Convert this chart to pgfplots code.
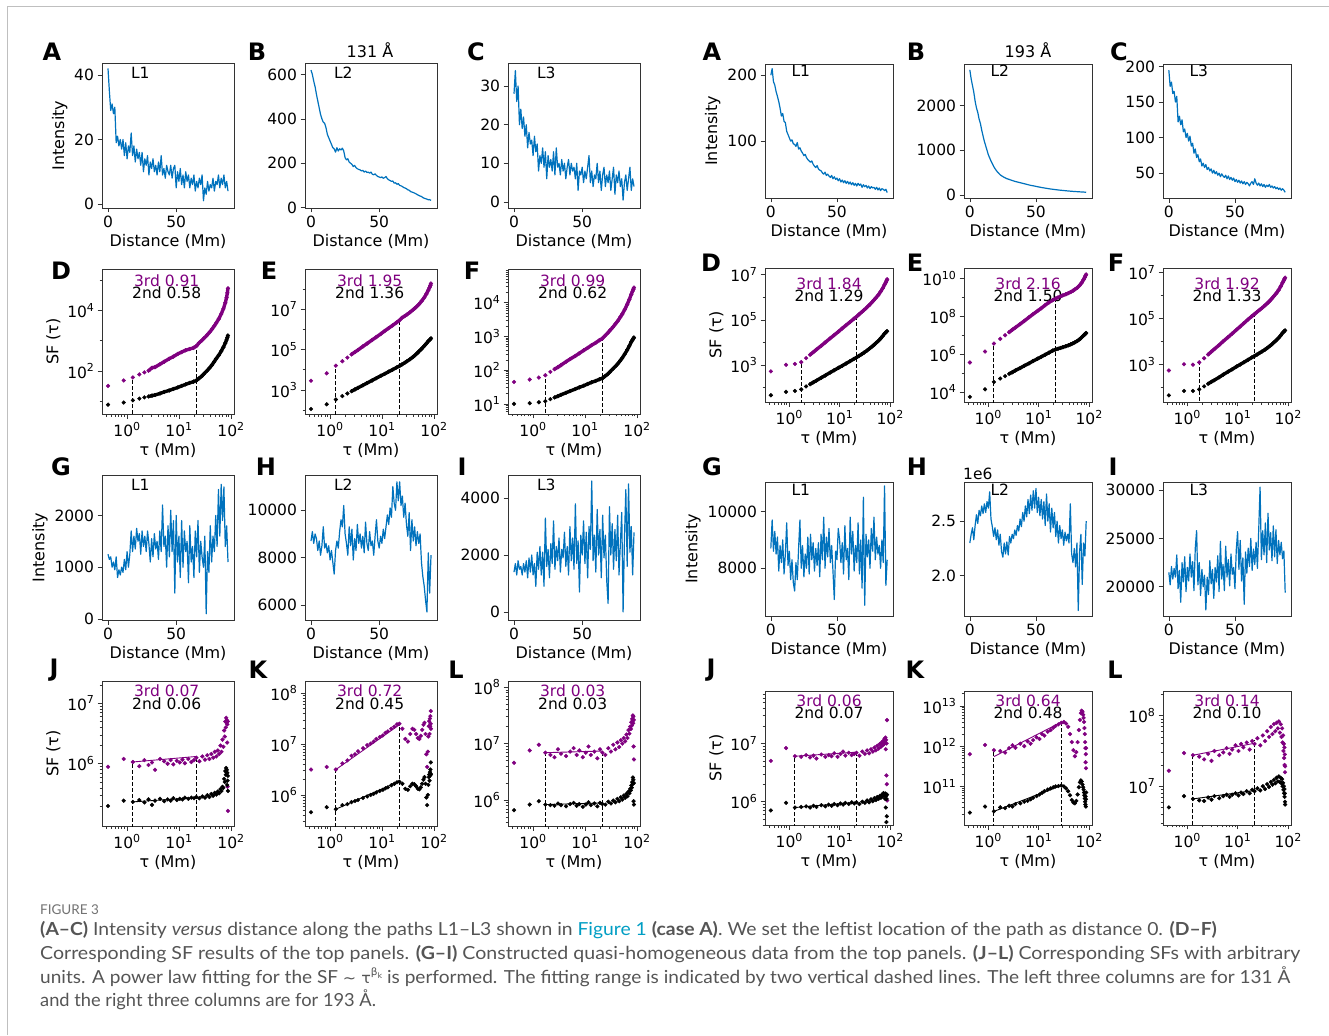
\documentclass[border=0pt]{standalone}
\usepackage{fontspec}
\setmainfont{DejaVu Sans}
\newfontfamily\capfont{Lato}
\newfontfamily\dejavu{DejaVu Sans}
\usepackage{graphicx}
\usepackage{pgfplots}
\usepackage{pgfplotstable}
\pgfplotsset{compat=1.18}
\definecolor{lineblue}{RGB}{0,114,189}
\definecolor{mpurple}{RGB}{128,0,128}
\definecolor{capgray}{RGB}{85,85,85}
\definecolor{capteal}{RGB}{0,158,196}
\newcommand{\tp}[1]{10\raisebox{0.42em}{\fontsize{11}{11}\selectfont #1}}
\tikzset{txt/.style={font=\fontsize{15.5}{16}\selectfont}}
\pgfplotsset{
  myax/.style={scale only axis, scaled ticks=false, axis line style={draw=black!80,line width=0.6pt}, tick style={black!80,line width=0.6pt}, tick align=outside, tick pos=left, major tick length=4.5pt, minor tick length=2.5pt, ticklabel style={font=\fontsize{15.5}{16}\selectfont}, label style={font=\fontsize{16}{18}\selectfont}, /pgf/number format/assume math mode=true, clip=true},
  Lw/.style={myax, width=132pt, height=145pt, anchor=north west},
  Rw/.style={myax, width=128pt, height=134pt, anchor=north west},
  dist/.style={xmin=-4.4, xmax=92.4, xtick={0,50}, xticklabels={0,50}, xlabel={Distance (Mm)}},
  sfax/.style={xmin=0.333, xmax=115, xtick={1,10,100}, xticklabels={\tp{0},\tp{1},\tp{2}}, minor xtick={0.4,0.5,0.6,0.7,0.8,0.9,2,3,4,5,6,7,8,9,20,30,40,50,60,70,80,90}, xlabel={τ (Mm)}},
  bl/.style={color=lineblue, line width=1.2pt, line join=round},
  pm/.style={only marks, mark=*, mark size=1.9pt, color=mpurple},
  km/.style={only marks, mark=*, mark size=1.9pt, color=black},
  pl/.style={no marks, color=mpurple, line width=3.4pt},
  kl/.style={no marks, color=black, line width=3.4pt},
  pf/.style={no marks, color=mpurple, line width=0.9pt},
  kf/.style={no marks, color=black, line width=0.9pt},
  dsh/.style={no marks, black, line width=0.9pt, dash pattern=on 4pt off 2pt},
}
\pgfplotstableread{
t LDp LDb LEp LEb LFp LFb RDp RDb REp REb RFp RFb
0.435 31.6 7.59 2.82e3 1.12e2 44.7 10.0 513 44.7 3.63e5 5.50e3 562 46.8
0.87 47.9 8.91 6.61e3 1.91e2 52.5 10.5 1000 63.1 1.38e6 1.38e4 1047 72.4
1.305 60.3 10.5 1.58e4 3.31e2 60.3 11.2 1096 69.2 3.63e6 3.39e4 1000 72.4
1.74 75.9 12.0 2.63e4 4.90e2 70.8 12.0 1318 81.3 6.46e6 5.13e4 1259 85.1
2.175 89.1 13.2 3.98e4 6.61e2 89.1 13.8 1995 110 1.00e7 6.92e4 1905 115
2.61 100 14.1 5.75e4 8.51e2 107 15.5 2818 138 1.45e7 9.12e4 2754 148
3.045 126 15.1 7.59e4 1.05e3 123 17.0 3715 170 2.00e7 1.12e5 3715 182
3.48 132 15.8 9.55e4 1.26e3 141 18.6 4786 200 2.57e7 1.38e5 4786 214
4.35 166 17.8 1.45e5 1.70e3 178 21.4 7079 269 3.98e7 1.86e5 7244 288
5.22 200 20.0 2.00e5 2.19e3 214 24.0 1.00e4 339 5.75e7 2.45e5 1.05e4 372
6.525 251 22.4 3.02e5 2.95e3 263 27.5 1.51e4 457 9.12e7 3.31e5 1.58e4 501
7.83 295 25.1 4.17e5 3.80e3 316 30.9 2.09e4 575 1.32e8 4.37e5 2.24e4 631
9.57 363 28.2 6.03e5 5.01e3 389 34.7 3.02e4 741 1.95e8 5.75e5 3.31e4 832
11.31 417 31.6 8.32e5 6.17e3 457 38.9 4.17e4 912 2.69e8 7.24e5 4.57e4 1023
13.485 479 35.5 1.15e6 7.94e3 550 43.7 5.75e4 1148 3.89e8 9.33e5 6.46e4 1288
16.095 525 39.8 1.58e6 1.00e4 646 47.9 7.94e4 1445 5.50e8 1.20e6 9.12e4 1622
19.14 575 43.7 2.19e6 1.29e4 776 53.7 1.10e5 1820 7.24e8 1.55e6 1.26e5 2042
21.75 661 47.9 2.82e6 1.51e4 871 57.5 1.38e5 2138 8.71e8 1.78e6 1.58e5 2399
24.36 832 56.2 3.80e6 1.82e4 1047 66.1 1.74e5 2512 1.00e9 1.95e6 1.95e5 2754
27.405 1000 66.1 4.57e6 2.19e4 1259 75.9 2.19e5 2951 1.15e9 2.14e6 2.40e5 3236
30.45 1202 79.4 5.50e6 2.63e4 1514 89.1 2.69e5 3467 1.29e9 2.34e6 2.88e5 3715
34.8 1514 100 7.08e6 3.31e4 1905 110 3.55e5 4266 1.48e9 2.63e6 3.72e5 4467
39.15 1905 126 9.12e6 4.17e4 2399 132 4.57e5 5248 1.70e9 2.95e6 4.68e5 5370
43.5 2399 158 1.15e7 5.25e4 2951 158 5.89e5 6310 1.95e9 3.31e6 5.89e5 6457
47.85 3020 200 1.45e7 6.61e4 3715 191 7.41e5 7586 2.24e9 3.72e6 7.41e5 7586
52.2 3802 251 1.82e7 8.32e4 4571 229 9.33e5 9120 2.63e9 4.17e6 9.33e5 9120
58.725 5248 331 2.63e7 1.12e5 6310 302 1.26e6 1.15e4 3.31e9 5.01e6 1.26e6 1.15e4
65.25 7586 447 3.80e7 1.51e5 8913 398 1.78e6 1.48e4 4.37e9 6.17e6 1.74e6 1.45e4
71.775 1.12e4 603 5.75e7 2.00e5 1.26e4 525 2.51e6 1.91e4 6.03e9 7.76e6 2.51e6 1.86e4
78.3 1.78e4 832 8.91e7 2.63e5 1.78e4 692 3.63e6 2.45e4 8.91e9 9.77e6 3.63e6 2.40e4
82.65 2.63e4 1047 1.20e8 3.02e5 2.19e4 794 4.57e6 2.75e4 1.17e10 1.12e7 4.57e6 2.69e4
85.695 3.80e4 1259 1.51e8 3.31e5 2.51e4 871 5.50e6 3.02e4 1.45e10 1.23e7 5.37e6 2.95e4
87.87 5.37e4 1479 1.91e8 3.63e5 2.82e4 933 6.31e6 3.16e4 1.66e10 1.32e7 6.03e6 3.09e4
}\tA
\pgfplotstableread{
t LJp LJb LKp LKb LLp LLb RJp RJb RKp RKb RLp RLb
0.435 8.91e5 2.00e5 3.16e6 4.57e5 4.57e6 6.61e5 5.01e6 7.08e5 6.31e11 2.24e10 1.66e7 5.01e6
0.87 1.20e6 2.45e5 3.55e6 5.75e5 7.59e6 8.32e5 8.32e6 9.55e5 1.07e12 3.16e10 2.95e7 7.24e6
1.305 1.07e6 2.34e5 3.16e6 5.25e5 9.55e6 9.55e5 6.03e6 7.94e5 7.94e11 2.40e10 2.75e7 6.61e6
1.74 9.12e5 2.51e5 4.17e6 6.31e5 6.92e6 8.32e5 5.89e6 8.13e5 7.59e11 3.02e10 2.63e7 6.31e6
2.175 1.15e6 2.29e5 4.79e6 6.61e5 6.31e6 8.13e5 6.31e6 8.32e5 6.92e11 2.88e10 2.40e7 6.17e6
2.61 9.55e5 2.57e5 5.89e6 7.24e5 5.75e6 7.94e5 5.75e6 7.94e5 8.91e11 3.31e10 2.88e7 6.92e6
3.045 1.05e6 2.09e5 6.31e6 7.59e5 7.94e6 8.71e5 6.17e6 8.51e5 1.05e12 3.16e10 2.29e7 6.46e6
3.48 7.94e5 2.45e5 7.24e6 7.94e5 6.61e6 8.13e5 5.50e6 8.13e5 9.12e11 3.63e10 3.16e7 7.24e6
4.35 1.20e6 2.63e5 8.32e6 8.71e5 6.03e6 7.76e5 6.46e6 8.71e5 1.15e12 3.80e10 2.75e7 6.76e6
5.22 1.10e6 2.40e5 9.55e6 9.33e5 7.24e6 8.51e5 5.89e6 8.32e5 1.00e12 4.17e10 3.02e7 7.24e6
6.09 1.00e6 2.57e5 1.02e7 1.00e6 8.32e6 8.91e5 6.31e6 8.91e5 1.32e12 4.37e10 3.47e7 7.59e6
6.96 1.15e6 2.45e5 1.12e7 1.05e6 6.31e6 7.94e5 6.03e6 8.51e5 1.15e12 4.79e10 2.88e7 7.08e6
7.83 9.77e5 2.69e5 1.26e7 1.12e6 7.59e6 8.51e5 6.76e6 9.12e5 1.41e12 5.25e10 3.31e7 7.59e6
9.135 1.12e6 2.51e5 1.38e7 1.20e6 5.75e6 7.59e5 5.89e6 8.71e5 1.66e12 5.75e10 3.80e7 7.94e6
10.44 1.05e6 2.63e5 1.48e7 1.26e6 6.92e6 8.32e5 6.61e6 9.33e5 1.51e12 6.31e10 3.16e7 7.41e6
11.745 1.17e6 2.57e5 1.66e7 1.35e6 8.91e6 9.12e5 7.24e6 8.91e5 2.00e12 6.92e10 3.98e7 8.13e6
13.05 1.02e6 2.75e5 1.78e7 1.41e6 6.31e6 8.13e5 6.17e6 9.55e5 1.82e12 7.59e10 3.55e7 7.76e6
15.225 1.20e6 2.63e5 2.00e7 1.55e6 7.24e6 8.71e5 6.92e6 9.12e5 2.29e12 8.32e10 4.17e7 8.51e6
17.4 1.07e6 2.75e5 2.19e7 1.66e6 5.50e6 7.76e5 6.31e6 9.77e5 2.51e12 8.91e10 3.31e7 7.94e6
19.575 1.15e6 2.69e5 2.45e7 1.78e6 7.94e6 8.91e5 6.61e6 9.33e5 2.88e12 9.55e10 4.37e7 8.91e6
21.75 1.26e6 2.82e5 2.51e7 1.82e6 6.92e6 8.51e5 6.92e6 9.77e5 3.16e12 1.00e11 3.98e7 8.51e6
24.8 1.10e6 2.69e5 2.00e7 1.66e6 6.31e6 8.32e5 6.17e6 9.12e5 3.47e12 1.02e11 4.79e7 9.33e6
28.3 1.32e6 2.88e5 1.26e7 1.32e6 8.32e6 9.33e5 7.24e6 1.00e6 3.80e12 1.05e11 3.80e7 8.71e6
31.8 1.17e6 2.75e5 1.12e7 1.26e6 7.24e6 8.71e5 6.61e6 9.55e5 3.98e12 1.00e11 5.25e7 1.00e7
35.2 1.38e6 3.02e5 1.58e7 1.48e6 9.55e6 9.77e5 7.59e6 1.05e6 3.63e12 8.91e10 4.37e7 9.12e6
38.7 1.20e6 2.82e5 2.00e7 1.66e6 7.94e6 9.12e5 6.76e6 9.77e5 3.02e12 7.59e10 6.03e7 1.07e7
42.2 1.45e6 3.16e5 1.91e7 1.62e6 1.05e7 1.05e6 7.94e6 1.10e6 2.00e12 6.03e10 5.01e7 9.77e6
45.7 1.26e6 2.95e5 1.58e7 1.48e6 8.71e6 9.55e5 7.24e6 1.02e6 1.26e12 4.57e10 6.92e7 1.15e7
49.2 1.58e6 3.31e5 1.32e7 1.32e6 1.15e7 1.12e6 8.51e6 1.15e6 7.94e11 3.98e10 5.50e7 1.05e7
52.6 1.32e6 3.09e5 1.26e7 1.29e6 1.00e7 1.02e6 7.59e6 1.07e6 5.62e11 3.80e10 7.59e7 1.23e7
56.1 1.66e6 3.47e5 1.45e7 1.41e6 1.26e7 1.20e6 9.12e6 1.20e6 7.08e11 4.37e10 6.03e7 1.10e7
59.6 1.45e6 3.24e5 1.91e7 1.66e6 1.10e7 1.10e6 8.13e6 1.12e6 1.26e12 6.31e10 7.94e7 1.32e7
63.1 2.00e6 3.80e5 2.40e7 2.00e6 1.45e7 1.29e6 9.77e6 1.26e6 2.51e12 9.55e10 6.61e7 1.17e7
66.1 1.58e6 3.55e5 2.63e7 2.24e6 1.26e7 1.17e6 8.71e6 1.17e6 4.47e12 1.26e11 8.32e7 1.38e7
69.1 2.51e6 4.17e5 1.58e7 1.66e6 1.74e7 1.41e6 1.05e7 1.32e6 6.61e12 1.41e11 5.75e7 1.15e7
71.8 1.91e6 3.98e5 6.31e6 8.91e5 1.51e7 1.32e6 9.33e6 1.23e6 7.59e12 1.32e11 7.59e7 1.32e7
74.4 3.55e6 5.62e5 3.55e6 6.31e5 2.00e7 1.58e6 1.12e7 1.41e6 7.08e12 1.12e11 5.01e7 1.10e7
76.6 2.82e6 5.01e5 7.08e6 1.00e6 1.82e7 1.48e6 9.77e6 1.29e6 6.03e12 9.55e10 6.61e7 1.26e7
78.3 5.01e6 7.59e5 1.41e7 1.58e6 2.40e7 1.82e6 1.20e7 1.35e6 5.01e12 8.32e10 4.17e7 1.00e7
80.0 3.98e6 6.61e5 2.24e7 2.24e6 2.09e7 1.66e6 1.05e7 1.12e6 3.98e12 7.08e10 5.25e7 1.12e7
81.3 5.75e6 8.51e5 2.82e7 2.51e6 2.75e7 2.09e6 1.26e7 1.38e6 2.82e12 6.03e10 3.16e7 8.91e6
82.7 4.79e6 7.24e5 1.58e7 1.91e6 2.51e7 1.91e6 7.94e6 7.94e5 2.00e12 5.01e10 3.98e7 1.00e7
83.9 5.25e6 7.94e5 3.16e7 2.82e6 3.16e7 2.51e6 1.15e7 1.26e6 1.26e12 4.17e10 2.51e7 7.94e6
85.0 2.24e6 4.47e5 2.24e7 2.40e6 2.29e7 2.00e6 2.82e6 4.47e5 8.91e11 3.55e10 3.55e7 9.12e6
85.7 4.47e6 7.08e5 3.55e7 3.16e6 3.02e7 2.29e6 1.00e7 1.12e6 3.98e11 5.62e10 2.00e7 7.08e6
86.6 4.17e5 5.25e5 2.51e7 2.63e6 8.91e6 9.55e5 2.00e6 5.62e5 6.31e11 3.16e10 2.82e7 7.94e6
87.4 5.01e6 6.31e5 4.47e7 4.37e6 2.63e7 2.00e6 2.51e7 1.32e6 2.82e11 4.79e10 1.58e7 6.03e6
87.9 1.66e5 3.55e5 2.00e7 2.51e6 5.25e6 8.32e5 1.05e6 3.55e5 8.91e11 7.08e10 1.91e7 5.50e6
}\tB
\begin{document}
\begin{tikzpicture}
\useasboundingbox (0,0) rectangle (1329pt,-1035pt);
\fill[white] (0,0) rectangle (1329pt,-1035pt);
\draw[black!25, line width=1pt] (7pt,-1035pt) -- (7pt,-7pt) -- (1329pt,-7pt);
% ---------- panel letters
\begin{scope}[every node/.style={font=\fontsize{24}{24}\selectfont\bfseries}]
\node at (52pt,-52pt) {A}; \node at (257pt,-52pt) {B}; \node at (476pt,-52pt) {C};
\node at (61pt,-271pt) {D}; \node at (269pt,-271pt) {E}; \node at (472pt,-271pt) {F};
\node at (61pt,-467pt) {G}; \node at (266pt,-467pt) {H}; \node at (462pt,-467pt) {I};
\node at (54pt,-670pt) {J}; \node at (258pt,-670pt) {K}; \node at (456pt,-670pt) {L};
\node at (712pt,-52pt) {A}; \node at (916pt,-52pt) {B}; \node at (1119pt,-52pt) {C};
\node at (711pt,-263pt) {D}; \node at (915pt,-263pt) {E}; \node at (1116pt,-263pt) {F};
\node at (712pt,-467pt) {G}; \node at (917pt,-467pt) {H}; \node at (1113pt,-467pt) {I};
\node at (711pt,-670pt) {J}; \node at (915pt,-670pt) {K}; \node at (1115pt,-670pt) {L};
\end{scope}
\node[font=\fontsize{16}{18}\selectfont] at (370pt,-50pt) {131 Å};
\node[font=\fontsize{16}{18}\selectfont] at (1028pt,-50pt) {193 Å};
\node[anchor=south west, inner sep=1pt, font=\fontsize{15.5}{16}\selectfont] at (962pt,-481pt) {1e6};
% ================= LEFT ROW 1
\begin{axis}[Lw, dist, at={(102pt,-63pt)}, ymin=-1.24, ymax=43.7, ytick={0,20,40}, yticklabels={0,20,40}, ylabel={Intensity}]
\addplot[bl] coordinates {(0,42)(1,35)(2,29)(3,31)(4,28)(5,30)(6,19)(7,21)(8,18)(9,20)(10,17)(11,20)(12,15)(13,19)(14,14)(15,18)(16,16)(17,22)(18,15)(19,18)(20,13)(21,17)(22,14)(23,16)(24,12)(25,16)(26,10)(27,14)(28,12)(29,15)(30,9)(31,13)(32,11)(33,14)(34,10)(35,12)(36,9)(37,13)(38,10)(39,15)(40,9)(41,11)(42,8)(43,12)(44,10)(45,9)(46,12)(47,8)(48,11)(49,12)(50,5)(51,10)(52,7)(53,11)(54,6)(55,9)(56,5)(57,10)(58,7)(59,9)(60,5)(61,8)(62,6)(63,9)(64,4)(65,7)(66,5)(67,8)(68,6)(69,9)(70,1)(71,5)(72,3)(73,7)(74,4)(75,6)(76,5)(77,8)(78,4)(79,7)(80,6)(81,9)(82,5)(83,8)(84,6)(85,9)(86,5)(87,7)(88,4)};
\node[txt] at (rel axis cs:0.29,0.93) {L1};
\end{axis}
\begin{axis}[Lw, dist, at={(305pt,-63pt)}, ymin=-2, ymax=652, ytick={0,200,400,600}, yticklabels={0,200,400,600}]
\addplot[bl] coordinates {(0,620)(1,600)(2,570)(3,545)(4,510)(5,480)(6,450)(7,420)(8,400)(9,385)(10,380)(11,360)(12,330)(13,315)(14,300)(15,285)(16,270)(17,265)(18,250)(19,270)(20,255)(21,265)(22,260)(23,268)(24,255)(25,225)(26,215)(27,220)(28,205)(29,200)(30,195)(31,185)(32,190)(33,180)(34,175)(35,172)(36,170)(37,165)(38,168)(39,160)(40,165)(41,158)(42,160)(43,155)(44,160)(45,150)(46,148)(47,152)(48,145)(49,140)(50,138)(51,135)(52,138)(53,132)(54,135)(55,140)(56,130)(57,125)(58,122)(59,118)(60,120)(61,110)(62,112)(63,105)(64,108)(65,100)(66,98)(67,95)(68,90)(69,88)(70,85)(71,80)(72,78)(73,72)(74,70)(75,68)(76,65)(77,62)(78,58)(79,55)(80,52)(81,50)(82,45)(83,42)(84,40)(85,38)(86,35)(87,36)(88,32)};
\node[txt] at (rel axis cs:0.29,0.93) {L2};
\end{axis}
\begin{axis}[Lw, dist, at={(508pt,-63pt)}, ymin=-1.55, ymax=35.95, ytick={0,10,20,30}, yticklabels={0,10,20,30}]
\addplot[bl] coordinates {(0,28)(1,34)(2,26)(3,30)(4,20)(5,24)(6,19)(7,22)(8,17)(9,20)(10,14)(11,18)(12,15)(13,16)(14,12)(15,17)(16,13)(17,15)(18,8)(19,12)(20,10)(21,14)(22,9)(23,13)(24,6)(25,12)(26,9)(27,11)(28,8)(29,13)(30,7)(31,14)(32,9)(33,10)(34,7)(35,11)(36,8)(37,10)(38,6)(39,9)(40,11)(41,7)(42,10)(43,8)(44,9)(45,6)(46,10)(47,3)(48,8)(49,7)(50,9)(51,5)(52,8)(53,6)(54,9)(55,12)(56,5)(57,8)(58,4)(59,7)(60,6)(61,10)(62,5)(63,8)(64,3)(65,7)(66,9)(67,4)(68,7)(69,5)(70,8)(71,3)(72,6)(73,9)(74,2)(75,7)(76,5)(77,8)(78,4)(79,6)(80,0.5)(81,5)(82,7)(83,3)(84,6)(85,9)(86,3)(87,6)(88,4)};
\node[txt] at (rel axis cs:0.29,0.93) {L3};
\end{axis}
% ================= LEFT ROW 2
\begin{loglogaxis}[Lw, sfax, at={(102pt,-269pt)}, ymin=3.72, ymax=2.34e5, ytick={1e2,1e4}, yticklabels={\tp{2},\tp{4}}, minor ytick={1e1,1e3,1e5}, ylabel={SF (τ)}]
\addplot[dsh] coordinates {(1.305,1e-3)(1.305,60.3)};
\addplot[dsh] coordinates {(21.75,1e-3)(21.75,661)};
\addplot[pl, skip coords between index={0}{5}] table[x=t,y=LDp]{\tA};
\addplot[kl, skip coords between index={0}{5}] table[x=t,y=LDb]{\tA};
\addplot[pm] table[x=t,y=LDp]{\tA};
\addplot[km] table[x=t,y=LDb]{\tA};
\node[txt, text=mpurple] at (rel axis cs:0.49,0.92) {3rd 0.91};
\node[txt] at (rel axis cs:0.49,0.835) {2nd 0.58};
\end{loglogaxis}
\begin{loglogaxis}[Lw, sfax, at={(305pt,-269pt)}, ymin=63.1, ymax=1e9, ytick={1e3,1e5,1e7}, yticklabels={\tp{3},\tp{5},\tp{7}}, minor ytick={1e2,1e4,1e6,1e8}]
\addplot[dsh] coordinates {(1.305,1e-3)(1.305,1.58e4)};
\addplot[dsh] coordinates {(21.75,1e-3)(21.75,2.82e6)};
\addplot[pl, skip coords between index={0}{5}] table[x=t,y=LEp]{\tA};
\addplot[kl, skip coords between index={0}{5}] table[x=t,y=LEb]{\tA};
\addplot[pm] table[x=t,y=LEp]{\tA};
\addplot[km] table[x=t,y=LEb]{\tA};
\node[txt, text=mpurple] at (rel axis cs:0.49,0.92) {3rd 1.95};
\node[txt] at (rel axis cs:0.49,0.835) {2nd 1.36};
\end{loglogaxis}
\begin{loglogaxis}[Lw, sfax, at={(508pt,-269pt)}, ymin=5.01, ymax=1e5, ytick={1e1,1e2,1e3,1e4}, yticklabels={\tp{1},\tp{2},\tp{3},\tp{4}}, minor ytick={6,7,8,9,20,30,40,50,60,70,80,90,200,300,400,500,600,700,800,900,2000,3000,4000,5000,6000,7000,8000,9000,2e4,3e4,4e4,5e4,6e4,7e4,8e4,9e4}]
\addplot[dsh] coordinates {(1.74,1e-3)(1.74,70.8)};
\addplot[dsh] coordinates {(21.75,1e-3)(21.75,871)};
\addplot[pl, skip coords between index={0}{5}] table[x=t,y=LFp]{\tA};
\addplot[kl, skip coords between index={0}{5}] table[x=t,y=LFb]{\tA};
\addplot[pm] table[x=t,y=LFp]{\tA};
\addplot[km] table[x=t,y=LFb]{\tA};
\node[txt, text=mpurple] at (rel axis cs:0.49,0.92) {3rd 0.99};
\node[txt] at (rel axis cs:0.49,0.835) {2nd 0.62};
\end{loglogaxis}
% ================= LEFT ROW 3
\begin{axis}[Lw, dist, at={(102pt,-475pt)}, ymin=-20, ymax=2780, ytick={0,1000,2000}, yticklabels={0,1000,2000}, ylabel={Intensity}]
\addplot[bl] coordinates {(0,1250)(1,1150)(2,1200)(3,1000)(4,1100)(5,950)(6,1200)(7,800)(8,950)(9,850)(10,1000)(11,900)(12,1150)(13,950)(14,1300)(15,1000)(16,1250)(17,1700)(18,1300)(19,1600)(20,1350)(21,1750)(22,1500)(23,1650)(24,1250)(25,1700)(26,1400)(27,1600)(28,1300)(29,1700)(30,1450)(31,1100)(32,1550)(33,1200)(34,1650)(35,1350)(36,1500)(37,1150)(38,1700)(39,1300)(40,2200)(41,1400)(42,1600)(43,1000)(44,1800)(45,1200)(46,2100)(47,1300)(48,1900)(49,500)(50,2000)(51,1100)(52,1600)(53,800)(54,1900)(55,1000)(56,1700)(57,1300)(58,1500)(59,700)(60,1800)(61,1100)(62,1400)(63,800)(64,1700)(65,1200)(66,1900)(67,900)(68,1500)(69,1200)(70,1000)(71,1600)(72,100)(73,1300)(74,900)(75,1800)(76,1100)(77,1600)(78,1300)(79,2000)(80,1400)(81,2500)(82,1600)(83,2600)(84,1900)(85,2550)(86,1400)(87,1800)(88,1100)};
\node[txt] at (rel axis cs:0.29,0.93) {L1};
\end{axis}
\begin{axis}[Lw, dist, at={(305pt,-475pt)}, ymin=5362, ymax=11489, ytick={6000,8000,10000}, yticklabels={6000,8000,10000}]
\addplot[bl] coordinates {(0,8700)(1,9100)(2,8600)(3,9000)(4,8800)(5,8300)(6,8700)(7,8100)(8,8500)(9,9300)(10,8400)(11,8600)(12,8200)(13,8500)(14,7900)(15,8300)(16,7800)(17,7300)(18,8300)(19,8700)(20,8400)(21,9100)(22,9600)(23,9300)(24,10200)(25,9000)(26,8600)(27,8100)(28,9300)(29,8500)(30,9200)(31,7900)(32,8800)(33,8300)(34,9400)(35,8600)(36,9000)(37,8400)(38,8900)(39,8200)(40,9500)(41,8600)(42,8300)(43,9100)(44,8500)(45,8700)(46,8100)(47,8900)(48,9600)(49,8700)(50,8400)(51,8900)(52,8600)(53,9200)(54,8800)(55,9300)(56,9800)(57,9400)(58,10100)(59,9700)(60,11000)(61,10300)(62,10000)(63,11200)(64,10400)(65,11200)(66,10200)(67,10600)(68,9700)(69,10300)(70,9400)(71,8900)(72,9900)(73,8300)(74,9600)(75,8700)(76,9300)(77,8500)(78,9100)(79,8600)(80,9000)(81,7800)(82,7200)(83,6800)(84,6200)(85,5700)(86,8200)(87,6500)(88,8100)};
\node[txt] at (rel axis cs:0.29,0.93) {L2};
\end{axis}
\begin{axis}[Lw, dist, at={(508pt,-475pt)}, ymin=-283, ymax=4813, ytick={0,2000,4000}, yticklabels={0,2000,4000}]
\addplot[bl] coordinates {(0,1400)(1,1700)(2,1300)(3,1800)(4,1500)(5,1600)(6,1300)(7,1700)(8,1400)(9,1800)(10,1200)(11,1900)(12,1400)(13,2000)(14,1300)(15,1700)(16,900)(17,2100)(18,1500)(19,2300)(20,1300)(21,2100)(22,900)(23,3300)(24,1600)(25,2200)(26,1200)(27,2400)(28,1700)(29,3200)(30,1500)(31,2300)(32,1800)(33,2600)(34,1400)(35,2200)(36,1900)(37,2800)(38,1600)(39,2300)(40,1300)(41,3000)(42,1800)(43,2600)(44,1500)(45,3800)(46,1700)(47,2500)(48,700)(49,2700)(50,2000)(51,3200)(52,1700)(53,2800)(54,1200)(55,3000)(56,2200)(57,4600)(58,1800)(59,2700)(60,1400)(61,3600)(62,2000)(63,2900)(64,1200)(65,3400)(66,1900)(67,2700)(68,1100)(69,300)(70,3700)(71,2000)(72,3100)(73,1500)(74,2900)(75,1800)(76,3400)(77,1300)(78,2400)(79,3500)(80,0)(81,2600)(82,4300)(83,1600)(84,4500)(85,2100)(86,3000)(87,1300)(88,2800)};
\node[txt] at (rel axis cs:0.29,0.93) {L3};
\end{axis}
% ================= LEFT ROW 4
\begin{loglogaxis}[Lw, sfax, at={(102pt,-681pt)}, ymin=9.33e4, ymax=2.34e7, ytick={1e6,1e7}, yticklabels={\tp{6},\tp{7}}, minor ytick={2e5,3e5,4e5,5e5,6e5,7e5,8e5,9e5,2e6,3e6,4e6,5e6,6e6,7e6,8e6,9e6,2e7}, ylabel={SF (τ)}]
\addplot[dsh] coordinates {(1.305,1e-3)(1.305,1.07e6)};
\addplot[dsh] coordinates {(21.75,1e-3)(21.75,1.32e6)};
\addplot[pf] coordinates {(1.305,1.07e6)(21.75,1.32e6)};
\addplot[kf] coordinates {(1.305,2.34e5)(21.75,2.75e5)};
\addplot[pm] table[x=t,y=LJp]{\tB};
\addplot[km] table[x=t,y=LJb]{\tB};
\node[txt, text=mpurple] at (rel axis cs:0.49,0.93) {3rd 0.07};
\node[txt] at (rel axis cs:0.49,0.845) {2nd 0.06};
\end{loglogaxis}
\begin{loglogaxis}[Lw, sfax, at={(305pt,-681pt)}, ymin=2.45e5, ymax=1.74e8, ytick={1e6,1e7,1e8}, yticklabels={\tp{6},\tp{7},\tp{8}}, minor ytick={3e5,4e5,5e5,6e5,7e5,8e5,9e5,2e6,3e6,4e6,5e6,6e6,7e6,8e6,9e6,2e7,3e7,4e7,5e7,6e7,7e7,8e7,9e7}]
\addplot[dsh] coordinates {(1.305,1e-3)(1.305,3.16e6)};
\addplot[dsh] coordinates {(21.75,1e-3)(21.75,2.45e7)};
\addplot[pf] coordinates {(1.305,3.16e6)(21.75,2.40e7)};
\addplot[kf] coordinates {(1.305,5.25e5)(21.75,1.86e6)};
\addplot[pm] table[x=t,y=LKp]{\tB};
\addplot[km] table[x=t,y=LKb]{\tB};
\node[txt, text=mpurple] at (rel axis cs:0.49,0.93) {3rd 0.72};
\node[txt] at (rel axis cs:0.49,0.845) {2nd 0.45};
\end{loglogaxis}
\begin{loglogaxis}[Lw, sfax, at={(508pt,-681pt)}, ymin=3.47e5, ymax=1.29e8, ytick={1e6,1e7,1e8}, yticklabels={\tp{6},\tp{7},\tp{8}}, minor ytick={4e5,5e5,6e5,7e5,8e5,9e5,2e6,3e6,4e6,5e6,6e6,7e6,8e6,9e6,2e7,3e7,4e7,5e7,6e7,7e7,8e7,9e7}]
\addplot[dsh] coordinates {(1.74,1e-3)(1.74,7.5e6)};
\addplot[dsh] coordinates {(21.75,1e-3)(21.75,7.41e6)};
\addplot[pf] coordinates {(1.74,6.92e6)(21.75,7.41e6)};
\addplot[kf] coordinates {(1.74,8.32e5)(21.75,8.91e5)};
\addplot[pm] table[x=t,y=LLp]{\tB};
\addplot[km] table[x=t,y=LLb]{\tB};
\node[txt, text=mpurple] at (rel axis cs:0.49,0.93) {3rd 0.03};
\node[txt] at (rel axis cs:0.49,0.845) {2nd 0.03};
\end{loglogaxis}
% ================= RIGHT ROW 1
\begin{axis}[Rw, dist, at={(765pt,-64pt)}, ymin=13.8, ymax=217, ytick={100,200}, yticklabels={100,200}, ylabel={Intensity}]
\addplot[bl] coordinates {(0,200)(1,210)(2,190)(3,185)(4,175)(5,168)(6,160)(7,150)(8,138)(9,142)(10,130)(11,128)(12,115)(13,110)(14,105)(15,100)(16,102)(17,96)(18,95)(19,92)(20,98)(21,88)(22,90)(23,85)(24,82)(25,78)(26,80)(27,75)(28,72)(29,70)(30,68)(31,70)(32,65)(33,62)(34,60)(35,63)(36,58)(37,56)(38,55)(39,52)(40,50)(41,53)(42,48)(43,50)(44,47)(45,45)(46,48)(47,43)(48,46)(49,42)(50,44)(51,40)(52,43)(53,38)(54,41)(55,37)(56,40)(57,36)(58,39)(59,35)(60,38)(61,34)(62,37)(63,33)(64,36)(65,32)(66,36)(67,33)(68,35)(69,30)(70,34)(71,31)(72,33)(73,29)(74,32)(75,28)(76,31)(77,29)(78,30)(79,27)(80,30)(81,26)(82,29)(83,25)(84,28)(85,27)(86,25)(87,27)(88,22)};
\node[txt] at (rel axis cs:0.28,0.95) {L1};
\end{axis}
\begin{axis}[Rw, dist, at={(964pt,-64pt)}, ymin=-68, ymax=2932, ytick={0,1000,2000}, yticklabels={0,1000,2000}]
\addplot[bl] coordinates {(0,2800)(1,2600)(2,2450)(3,2300)(4,2100)(5,1950)(6,1850)(7,1700)(8,1600)(9,1450)(10,1320)(11,1200)(12,1100)(13,1000)(14,900)(15,830)(16,760)(17,700)(18,640)(19,590)(20,550)(21,510)(22,480)(23,450)(24,430)(25,410)(26,395)(27,380)(28,365)(29,355)(30,345)(32,325)(34,305)(36,290)(38,275)(40,260)(42,245)(44,230)(46,215)(48,205)(50,192)(52,180)(54,168)(56,158)(58,148)(60,138)(62,130)(64,122)(66,115)(68,108)(70,102)(72,96)(74,90)(76,85)(78,80)(80,76)(82,72)(84,68)(86,65)(88,60)};
\node[txt] at (rel axis cs:0.28,0.95) {L2};
\end{axis}
\begin{axis}[Rw, dist, at={(1163pt,-64pt)}, ymin=15, ymax=203.5, ytick={50,100,150,200}, yticklabels={50,100,150,200}]
\addplot[bl] coordinates {(0,195)(1,172)(2,178)(3,162)(4,165)(5,150)(6,158)(7,122)(8,130)(9,118)(10,125)(11,108)(12,112)(13,100)(14,106)(15,95)(16,102)(17,88)(18,92)(19,78)(20,84)(21,72)(22,76)(23,66)(24,70)(25,60)(26,64)(27,58)(28,62)(29,55)(30,58)(31,53)(32,56)(33,50)(34,54)(35,49)(36,52)(37,47)(38,50)(39,45)(40,49)(41,46)(42,44)(43,47)(44,42)(45,46)(46,41)(47,44)(48,40)(49,43)(50,38)(51,41)(52,37)(53,40)(54,36)(55,39)(56,35)(57,38)(58,34)(59,37)(60,35)(61,32)(62,36)(63,38)(64,34)(65,42)(66,36)(67,33)(68,36)(69,32)(70,35)(71,31)(72,34)(73,30)(74,33)(75,31)(76,34)(77,30)(78,32)(79,29)(80,31)(81,28)(82,30)(83,27)(84,29)(85,26)(86,28)(87,26)(88,23)};
\node[txt] at (rel axis cs:0.28,0.95) {L3};
\end{axis}
% ================= RIGHT ROW 2
\begin{loglogaxis}[Rw, sfax, at={(765pt,-268pt)}, ymin=22.4, ymax=2.0e7, ytick={1e3,1e5,1e7}, yticklabels={\tp{3},\tp{5},\tp{7}}, minor ytick={1e2,1e4,1e6}, ylabel={SF (τ)}]
\addplot[dsh] coordinates {(1.74,1e-3)(1.74,1318)};
\addplot[dsh] coordinates {(21.75,1e-3)(21.75,1.38e5)};
\addplot[pl, skip coords between index={0}{5}] table[x=t,y=RDp]{\tA};
\addplot[kl, skip coords between index={0}{5}] table[x=t,y=RDb]{\tA};
\addplot[pm] table[x=t,y=RDp]{\tA};
\addplot[km] table[x=t,y=RDb]{\tA};
\node[txt, text=mpurple] at (rel axis cs:0.5,0.88) {3rd 1.84};
\node[txt] at (rel axis cs:0.5,0.79) {2nd 1.29};
\end{loglogaxis}
\begin{loglogaxis}[Rw, sfax, at={(964pt,-268pt)}, ymin=2.95e3, ymax=3.63e10, ytick={1e4,1e6,1e8,1e10}, yticklabels={\tp{4},\tp{6},\tp{8},\tp{10}}, minor ytick={1e5,1e7,1e9}]
\addplot[dsh] coordinates {(1.305,1e-3)(1.305,3.63e6)};
\addplot[dsh] coordinates {(21.75,1e-3)(21.75,8.71e8)};
\addplot[pl, skip coords between index={0}{5}] table[x=t,y=REp]{\tA};
\addplot[kl, skip coords between index={0}{5}] table[x=t,y=REb]{\tA};
\addplot[pm] table[x=t,y=REp]{\tA};
\addplot[km] table[x=t,y=REb]{\tA};
\node[txt, text=mpurple] at (rel axis cs:0.5,0.88) {3rd 2.16};
\node[txt] at (rel axis cs:0.5,0.79) {2nd 1.50};
\end{loglogaxis}
\begin{loglogaxis}[Rw, sfax, at={(1163pt,-268pt)}, ymin=24.0, ymax=1.58e7, ytick={1e3,1e5,1e7}, yticklabels={\tp{3},\tp{5},\tp{7}}, minor ytick={1e2,1e4,1e6}]
\addplot[dsh] coordinates {(1.74,1e-3)(1.74,1259)};
\addplot[dsh] coordinates {(21.75,1e-3)(21.75,1.58e5)};
\addplot[pl, skip coords between index={0}{5}] table[x=t,y=RFp]{\tA};
\addplot[kl, skip coords between index={0}{5}] table[x=t,y=RFb]{\tA};
\addplot[pm] table[x=t,y=RFp]{\tA};
\addplot[km] table[x=t,y=RFb]{\tA};
\node[txt, text=mpurple] at (rel axis cs:0.5,0.88) {3rd 1.92};
\node[txt] at (rel axis cs:0.5,0.79) {2nd 1.33};
\end{loglogaxis}
% ================= RIGHT ROW 3
\begin{axis}[Rw, dist, at={(765pt,-482pt)}, ymin=6321, ymax=11036, ytick={8000,10000}, yticklabels={8000,10000}, ylabel={Intensity}]
\addplot[bl] coordinates {(0,8700)(1,9700)(2,8600)(3,9300)(4,8500)(5,9100)(6,7900)(7,8800)(8,8200)(9,9000)(10,7800)(11,8500)(12,9600)(13,8100)(14,8600)(15,7600)(16,8300)(17,7500)(18,7200)(19,8200)(20,7600)(21,8700)(22,9700)(23,8000)(24,8800)(25,7700)(26,8500)(27,8000)(28,9100)(29,7800)(30,9200)(31,8300)(32,8900)(33,7900)(34,8700)(35,8100)(36,8900)(37,7700)(38,9200)(39,8300)(40,9800)(41,8000)(42,9100)(43,8400)(44,9400)(45,8200)(46,8800)(47,7900)(48,6900)(49,8600)(50,8300)(51,9400)(52,9000)(53,8200)(54,8900)(55,7800)(56,9500)(57,8300)(58,8700)(59,7600)(60,9800)(61,8500)(62,9300)(63,7900)(64,8800)(65,8200)(66,9600)(67,7800)(68,9000)(69,7300)(70,10500)(71,6700)(72,9200)(73,8400)(74,9000)(75,8000)(76,9400)(77,8600)(78,9800)(79,8300)(80,9100)(81,8500)(82,8800)(83,8000)(84,9000)(85,8200)(86,10900)(87,7400)(88,8300)};
\node[txt] at (rel axis cs:0.28,0.94) {L1};
\end{axis}
\begin{axis}[Rw, dist, at={(964pt,-482pt)}, ymin=1.63, ymax=2.86, ytick={2.0,2.5}, yticklabels={2.0,2.5}]
\addplot[bl] coordinates {(0,2.30)(1,2.38)(2,2.44)(3,2.33)(4,2.46)(5,2.56)(6,2.48)(7,2.60)(8,2.55)(9,2.64)(10,2.57)(11,2.66)(12,2.58)(13,2.68)(14,2.62)(15,2.77)(16,2.52)(17,2.45)(18,2.36)(19,2.44)(20,2.33)(21,2.42)(22,2.28)(23,2.38)(24,2.22)(25,2.17)(26,2.30)(27,2.20)(28,2.31)(29,2.19)(30,2.36)(31,2.30)(32,2.38)(33,2.34)(34,2.42)(35,2.37)(36,2.46)(37,2.41)(38,2.52)(39,2.45)(40,2.58)(41,2.50)(42,2.64)(43,2.54)(44,2.70)(45,2.57)(46,2.74)(47,2.60)(48,2.78)(49,2.62)(50,2.80)(51,2.58)(52,2.72)(53,2.55)(54,2.70)(55,2.52)(56,2.68)(57,2.46)(58,2.75)(59,2.50)(60,2.66)(61,2.40)(62,2.62)(63,2.44)(64,2.58)(65,2.36)(66,2.50)(67,2.30)(68,2.46)(69,2.34)(70,2.42)(71,2.28)(72,2.40)(73,2.32)(74,2.38)(75,2.30)(76,2.66)(77,2.20)(78,2.12)(79,2.25)(80,2.08)(81,2.30)(82,1.68)(83,2.22)(84,2.38)(85,1.92)(86,2.30)(87,2.18)(88,2.50)};
\node[txt] at (rel axis cs:0.28,0.94) {L2};
\end{axis}
\begin{axis}[Rw, dist, at={(1163pt,-482pt)}, ymin=16979, ymax=30833, ytick={20000,25000,30000}, yticklabels={20000,25000,30000}]
\addplot[bl] coordinates {(0,21500)(1,20200)(2,22100)(3,20800)(4,21900)(5,21000)(6,23300)(7,19800)(8,21700)(9,18400)(10,22500)(11,20500)(12,23100)(13,19500)(14,22000)(15,20600)(16,23400)(17,21000)(18,22600)(19,19600)(20,24000)(21,25800)(22,20200)(23,22500)(24,19100)(25,21800)(26,20000)(27,21200)(28,17600)(29,21000)(30,19200)(31,22700)(32,20300)(33,21800)(34,18800)(35,22000)(36,20500)(37,23200)(38,19500)(39,24700)(40,20800)(41,22300)(42,19600)(43,24200)(44,21000)(45,22800)(46,20100)(47,23400)(48,21300)(49,22000)(50,19800)(51,23800)(52,25700)(53,21800)(54,24800)(55,20600)(56,23000)(57,18200)(58,23600)(59,21400)(60,24000)(61,22100)(62,25000)(63,21700)(64,23900)(65,22300)(66,24600)(67,21900)(68,26000)(69,30300)(70,22800)(71,25800)(72,23300)(73,26600)(74,22500)(75,27600)(76,23800)(77,25600)(78,22700)(79,26300)(80,23100)(81,25900)(82,22400)(83,24800)(84,23300)(85,24600)(86,22900)(87,23700)(88,19400)};
\node[txt] at (rel axis cs:0.28,0.94) {L3};
\end{axis}
% ================= RIGHT ROW 4
\begin{loglogaxis}[Rw, sfax, at={(765pt,-691pt)}, ymin=3.98e5, ymax=7.94e7, ytick={1e6,1e7}, yticklabels={\tp{6},\tp{7}}, minor ytick={4e5,5e5,6e5,7e5,8e5,9e5,2e6,3e6,4e6,5e6,6e6,7e6,8e6,9e6,2e7,3e7,4e7,5e7,6e7,7e7}, ylabel={SF (τ)}]
\addplot[dsh] coordinates {(1.305,1e-3)(1.305,6.2e6)};
\addplot[dsh] coordinates {(21.75,1e-3)(21.75,7.08e6)};
\addplot[pf] coordinates {(1.305,6.03e6)(21.75,7.08e6)};
\addplot[kf] coordinates {(1.305,7.94e5)(21.75,9.77e5)};
\addplot[pm] table[x=t,y=RJp]{\tB};
\addplot[km] table[x=t,y=RJb]{\tB};
\node[txt, text=mpurple] at (rel axis cs:0.5,0.93) {3rd 0.06};
\node[txt] at (rel axis cs:0.5,0.84) {2nd 0.07};
\end{loglogaxis}
\begin{loglogaxis}[Rw, sfax, at={(964pt,-691pt)}, ymin=1.10e10, ymax=2.34e13, ytick={1e11,1e12,1e13}, yticklabels={\tp{11},\tp{12},\tp{13}}, minor ytick={2e10,3e10,4e10,5e10,6e10,7e10,8e10,9e10,2e11,3e11,4e11,5e11,6e11,7e11,8e11,9e11,2e12,3e12,4e12,5e12,6e12,7e12,8e12,9e12,2e13}]
\addplot[dsh] coordinates {(1.305,1e-3)(1.305,7.94e11)};
\addplot[dsh] coordinates {(28.3,1e-3)(28.3,3.98e12)};
\addplot[pf] coordinates {(1.305,5.50e11)(28.3,3.94e12)};
\addplot[kf] coordinates {(1.305,2.40e10)(28.3,1.05e11)};
\addplot[pm] table[x=t,y=RKp]{\tB};
\addplot[km] table[x=t,y=RKb]{\tB};
\node[txt, text=mpurple] at (rel axis cs:0.5,0.93) {3rd 0.64};
\node[txt] at (rel axis cs:0.5,0.84) {2nd 0.48};
\end{loglogaxis}
\begin{loglogaxis}[Rw, sfax, at={(1163pt,-691pt)}, ymin=2.82e6, ymax=2.24e8, ytick={1e7,1e8}, yticklabels={\tp{7},\tp{8}}, minor ytick={3e6,4e6,5e6,6e6,7e6,8e6,9e6,2e7,3e7,4e7,5e7,6e7,7e7,8e7,9e7,2e8}]
\addplot[dsh] coordinates {(1.305,1e-3)(1.305,2.75e7)};
\addplot[dsh] coordinates {(21.75,1e-3)(21.75,4.5e7)};
\addplot[pf] coordinates {(1.305,2.75e7)(21.75,4.07e7)};
\addplot[kf] coordinates {(1.305,6.61e6)(21.75,8.71e6)};
\addplot[pm] table[x=t,y=RLp]{\tB};
\addplot[km] table[x=t,y=RLb]{\tB};
\node[txt, text=mpurple] at (rel axis cs:0.5,0.93) {3rd 0.14};
\node[txt] at (rel axis cs:0.5,0.84) {2nd 0.10};
\end{loglogaxis}
% ================= CAPTION
\begin{scope}[every node/.style={anchor=west, inner sep=0pt, text=capgray}]
\node[font=\capfont\fontsize{13.5}{14}\selectfont, text=black!55] at (40pt,-910pt) {FIGURE 3};
\node[font=\capfont\fontsize{18}{18}\selectfont] at (40pt,-930pt) {\scalebox{1.074}[1]{\textbf{(A–C)} Intensity \textit{versus} distance along the paths L1–L3 shown in \textcolor{capteal}{Figure 1} \textbf{(case A)}. We set the leftist location of the path as distance 0. \textbf{(D–F)}}};
\node[font=\capfont\fontsize{18}{18}\selectfont] at (40pt,-954pt) {\scalebox{1.086}[1]{Corresponding SF results of the top panels. \textbf{(G–I)} Constructed quasi-homogeneous data from the top panels. \textbf{(J–L)} Corresponding SFs with arbitrary}};
\node[font=\capfont\fontsize{18}{18}\selectfont] at (40pt,-977pt) {\scalebox{1.058}[1]{units. A power law fitting for the SF {\dejavu\fontsize{15}{16}\selectfont ∼ τ\raisebox{0.55em}{\fontsize{10}{10}\selectfont β\raisebox{-0.25em}{\fontsize{7.5}{8}\selectfont k}}} is performed. The fitting range is indicated by two vertical dashed lines. The left three columns are for 131 Å}};
\node[font=\capfont\fontsize{18}{18}\selectfont] at (40pt,-1000pt) {\scalebox{1.015}[1]{and the right three columns are for 193 Å.}};
\end{scope}
\end{tikzpicture}
\end{document}
